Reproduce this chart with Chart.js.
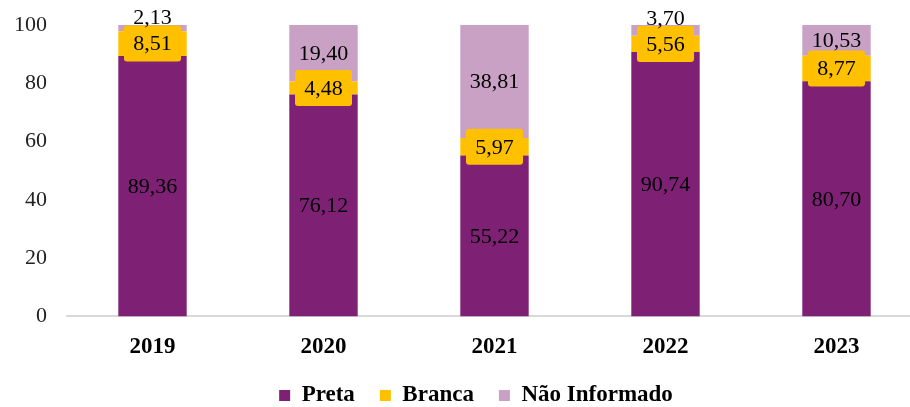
<!DOCTYPE html>
<html>
<head>
<meta charset="utf-8">
<script src="https://cdn.jsdelivr.net/npm/chart.js@4"></script>
<style>
  body { margin: 0; overflow: hidden; background: #fff; }
  #wrap { width: 910px; height: 407px; overflow: hidden; }
</style>
</head>
<body>
<div id="wrap"><canvas id="chart" width="922" height="407"></canvas></div>
<script>
// data (percent)
const years = ["2019", "2020", "2021", "2022", "2023"];
const preta = [89.36, 76.12, 55.22, 90.74, 80.70];
const branca = [8.51, 4.48, 5.97, 5.56, 8.77];
const naoInformado = [2.13, 19.40, 38.81, 3.70, 10.53];
const yTicks = [0, 20, 40, 60, 80, 100];

const serif = "'Liberation Serif', 'Times New Roman', serif";

function fmt(v) {
  return v.toFixed(2).replace(".", ",");
}

// labels in the middle of each segment, yellow box for "Branca"
const segLabels = {
  id: "segLabels",
  afterLayout(chart) {
    // legend sits a bit right of centre and higher in the original
    const lg = chart.legend;
    lg.left += 9;
    lg.right += 9;
    lg.top -= 11;
    lg.bottom -= 11;
  },
  afterDatasetsDraw(chart) {
    const ctx = chart.ctx;
    ctx.save();
    ctx.font = "22px " + serif;
    ctx.textAlign = "center";
    ctx.textBaseline = "middle";
    ctx.fillStyle = "#000";

    const pretaMeta = chart.getDatasetMeta(0);
    const brancaMeta = chart.getDatasetMeta(1);
    const niMeta = chart.getDatasetMeta(2);

    pretaMeta.data.forEach((bar, i) => {
      ctx.fillText(fmt(preta[i]), bar.x, (bar.y + bar.base) / 2 + 1);
    });

    const boxTops = [];
    brancaMeta.data.forEach((bar, i) => {
      const cy = (bar.y + bar.base) / 2;
      const w = 57, h = 36;
      const x0 = bar.x - w / 2, y0 = cy - h / 2;
      boxTops.push(y0);
      ctx.fillStyle = "#FFC000";
      ctx.beginPath();
      ctx.roundRect(x0, y0, w, h, 3);
      ctx.fill();
      ctx.fillStyle = "#000";
      ctx.fillText(fmt(branca[i]), bar.x, cy + 1);
    });

    niMeta.data.forEach((bar, i) => {
      let cy = (bar.y + bar.base) / 2;
      cy = Math.min(cy, boxTops[i] - 8);
      ctx.fillText(fmt(naoInformado[i]), bar.x, cy + 1);
    });
    ctx.restore();
  }
};

new Chart(document.getElementById("chart"), {
  type: "bar",
  data: {
    labels: years,
    datasets: [
      { label: "Preta", data: preta, backgroundColor: "#7E2175" },
      { label: "Branca", data: branca, backgroundColor: "#FFC000" },
      { label: "Não Informado", data: naoInformado, backgroundColor: "#C9A1C5" },
    ],
  },
  options: {
    responsive: false,
    animation: false,
    categoryPercentage: 1,
    barPercentage: 0.4,
    layout: { padding: { left: 12, top: 25, right: 0, bottom: -21 } },
    scales: {
      x: {
        stacked: true,
        grid: { display: false },
        border: { display: true, color: "#D9D9D9", width: 2 },
        ticks: {
          color: "#000",
          padding: 9,
          font: { family: serif, size: 23, weight: "bold" },
        },
      },
      y: {
        stacked: true,
        min: 0,
        max: 100,
        afterBuildTicks: (axis) => {
          axis.ticks = yTicks.map((v) => ({ value: v }));
        },
        afterFit: (axis) => {
          axis.width = 55;
        },
        grid: { display: false, drawTicks: true, tickLength: 13 },
        border: { display: false },
        ticks: {
          color: "#222",
          padding: 7,
          font: { family: serif, size: 22 },
        },
      },
    },
    plugins: {
      tooltip: { enabled: false },
      legend: {
        position: "bottom",
        labels: {
          boxWidth: 11,
          boxHeight: 11,
          padding: 25,
          color: "#000",
          font: { family: serif, size: 23, weight: "bold" },
        },
      },
    },
  },
  plugins: [segLabels],
});
</script>
</body>
</html>
